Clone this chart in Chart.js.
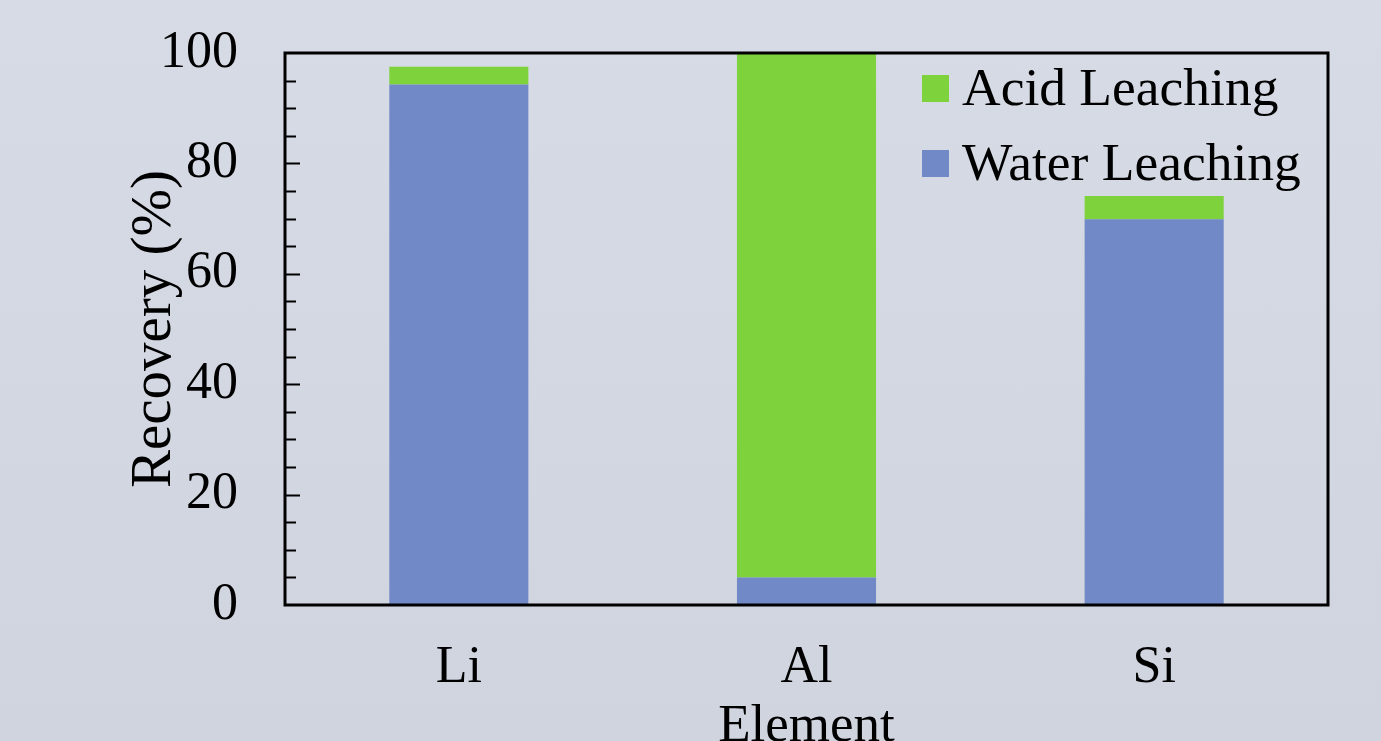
<!DOCTYPE html>
<html>
<head>
<meta charset="utf-8">
<script src="https://cdn.jsdelivr.net/npm/chart.js@4.4.0/dist/chart.umd.min.js"></script>
<style>
  html, body { margin: 0; padding: 0; }
  body {
    width: 1381px; height: 741px; overflow: hidden;
    background: linear-gradient(to bottom, #d7dbe5 0%, #cfd4df 100%);
  }
  #chart { display: block; }
</style>
</head>
<body>
<canvas id="chart" width="1381" height="741"></canvas>
<script>
// data
var elements = ['Li', 'Al', 'Si'];
var waterLeaching = [94.3, 5.0, 69.9];
var acidLeaching = [3.2, 95.0, 4.2];
var yMajorTicks = [0, 20, 40, 60, 80, 100];
var yMinorTicks = [5, 10, 15, 25, 30, 35, 45, 50, 55, 65, 70, 75, 85, 90, 95];

var serif = "'Liberation Serif', 'Times New Roman', serif";

// frame round the plot + inward tick marks on the left axis
var framePlugin = {
  id: 'frame',
  afterDatasetsDraw: function(chart) {
    var ctx = chart.ctx;
    var a = chart.chartArea;
    var y = chart.scales.y;
    ctx.save();
    ctx.strokeStyle = '#000';
    ctx.lineWidth = 2;
    yMajorTicks.concat(yMinorTicks).forEach(function(v) {
      if (v === 0 || v === 100) return;
      var py = Math.round(y.getPixelForValue(v)) + 0.5;
      var len = (v % 20 === 0) ? 15 : 11;
      ctx.beginPath();
      ctx.moveTo(a.left, py);
      ctx.lineTo(a.left + len, py);
      ctx.stroke();
    });
    ctx.lineWidth = 3;
    ctx.strokeRect(a.left, a.top, a.right - a.left, a.bottom - a.top);
    ctx.restore();
  }
};

// legend inside the plot, top right (Acid on top, like the figure)
var legendPlugin = {
  id: 'innerLegend',
  afterDraw: function(chart) {
    var ctx = chart.ctx;
    var a = chart.chartArea;
    var x = a.right - 406;
    var top = a.top + 22;
    var ds = chart.data.datasets.slice().reverse();
    ctx.save();
    ctx.font = '53.5px ' + serif;
    ctx.textBaseline = 'alphabetic';
    ctx.textAlign = 'left';
    ds.forEach(function(d, i) {
      var by = top + i * 75;
      ctx.fillStyle = d.backgroundColor;
      ctx.fillRect(x, by, 27, 27);
      ctx.fillStyle = '#000';
      ctx.fillText(d.label, x + 40, by + 30);
    });
    ctx.restore();
  }
};

var ctx = document.getElementById('chart').getContext('2d');
window.recoveryChart = new Chart(ctx, {
  type: 'bar',
  data: {
    labels: elements,
    datasets: [{
      label: 'Water Leaching',
      data: waterLeaching,
      backgroundColor: '#7189c7',
      borderWidth: 0,
      barPercentage: 0.4,
      categoryPercentage: 1.0
    }, {
      label: 'Acid Leaching',
      data: acidLeaching,
      backgroundColor: '#7ed23b',
      borderWidth: 0,
      barPercentage: 0.4,
      categoryPercentage: 1.0
    }]
  },
  options: {
    responsive: false,
    animation: false,
    layout: { padding: { left: 0, right: 53, top: 53, bottom: 0 } },
    plugins: {
      legend: { display: false },
      tooltip: { enabled: false }
    },
    scales: {
      x: {
        stacked: true,
        grid: { display: false, drawTicks: false },
        border: { display: false },
        ticks: { color: '#000', padding: 32, font: { family: serif, size: 52 } },
        title: {
          display: true,
          text: 'Element',
          color: '#000',
          padding: { top: 0, bottom: 1 },
          font: { family: serif, size: 53, lineHeight: 0.5 }
        },
        afterFit: function(scale) {
          scale.height = 136;
          scale.paddingLeft = 0;
          scale.paddingRight = 0;
        }
      },
      y: {
        stacked: true,
        min: 0,
        max: 100,
        grid: { display: false, drawTicks: false },
        border: { display: false },
        afterBuildTicks: function(scale) {
          scale.ticks = yMajorTicks.map(function(v) { return { value: v }; });
        },
        ticks: { color: '#000', padding: 47, font: { family: serif, size: 52 } },
        title: {
          display: true,
          text: 'Recovery (%)',
          color: '#000',
          padding: { top: 121, bottom: 0 },
          font: { family: serif, size: 57 }
        },
        afterFit: function(scale) {
          scale.width = 285;
          scale.paddingTop = 0;
          scale.paddingBottom = 0;
        }
      }
    }
  },
  plugins: [framePlugin, legendPlugin]
});
</script>
</body>
</html>
